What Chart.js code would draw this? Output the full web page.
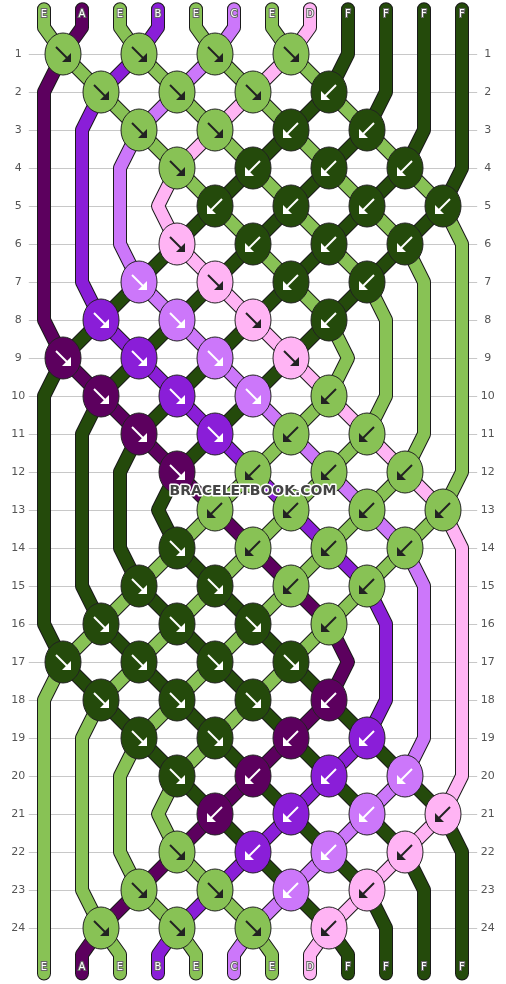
<!DOCTYPE html>
<html><head><meta charset="utf-8">
<script src="https://cdn.jsdelivr.net/npm/chart.js@4/dist/chart.umd.min.js"></script>
<style>body{margin:0;background:#fff}</style>
</head><body>
<canvas id="c" width="506" height="984"></canvas>
<script>
// starting strings, left to right
const strings = ['E','A','E','B','E','C','E','D','F','F','F','F'];
const threadColors = {A:'#5c005e',B:'#8a1ed8',C:'#cc77fa',D:'#ffb4f4',E:'#88c255',F:'#244a0b'};
// knot positions per row (index of left string of the pair)
const knotCols = [[0,2,4,6],[1,3,5,7],[2,4,6,8],[3,5,7,9],[4,6,8,10],[3,5,7,9],[2,4,6,8],[1,3,5,7],
  [0,2,4,6],[1,3,5,7],[2,4,6,8],[3,5,7,9],[4,6,8,10],[3,5,7,9],[2,4,6,8],[1,3,5,7],
  [0,2,4,6],[1,3,5,7],[2,4,6,8],[3,5,7,9],[4,6,8,10],[3,5,7,9],[2,4,6,8],[1,3,5,7]];
// R = forward knot, L = backward knot
const knotDirs = ['RRRR','RRRL','RRLL','RLLL','LLLL','RLLL','RRLL','RRRL',
  'RRRR','RRRL','RRLL','RLLL','LLLL','RLLL','RRLL','RRRL',
  'RRRR','RRRL','RRLL','RLLL','LLLL','RLLL','RRLL','RRRL'];
const rowLabels = Array.from({length:24},(_, i) => String(i+1));

// follow threads through the knots
let pos = strings.map((s,i) => i);
const paths = strings.map((s,i) => [{x:i, y:-0.18}, {x:i, y:0.3}]);
const knots = [];
knotCols.forEach((cols, r) => {
  const row = r + 1, inKnot = {};
  cols.forEach((c, k) => {
    const a = pos[c], b = pos[c+1], d = knotDirs[r][k];
    knots.push({x:c+0.5, y:row, col:strings[d==='R' ? a : b], dir:d});
    inKnot[a] = c+0.5; inKnot[b] = c+0.5;
    pos[c] = b; pos[c+1] = a;
  });
  const where = {}; pos.forEach((t,i) => where[t] = i);
  strings.forEach((s,t) => {
    paths[t].push({x: inKnot[t] !== undefined ? inKnot[t] : where[t], y:row});
  });
});
const endLetters = [];
pos.forEach((t,i) => { paths[t].push({x:i, y:24.7}, {x:i, y:25.2}); endLetters[i] = strings[t]; });

function knotImage(col, dir) {
  const cv = document.createElement('canvas'); cv.width = 40; cv.height = 46;
  const g = cv.getContext('2d');
  g.beginPath(); g.ellipse(20,23,18,21,0,0,Math.PI*2);
  g.fillStyle = col; g.fill(); g.strokeStyle = '#222'; g.lineWidth = 1; g.stroke();
  const light = col === threadColors.E || col === threadColors.D;
  g.strokeStyle = g.fillStyle = light ? '#222' : '#fff'; g.lineWidth = 2;
  const s = dir === 'R' ? 1 : -1;
  g.beginPath(); g.moveTo(20 - 7*s, 16); g.lineTo(20 + 5*s, 28); g.stroke();
  g.beginPath(); g.moveTo(20 + 8*s, 31); g.lineTo(20 + 8*s, 22); g.lineTo(20 - 1*s, 31); g.closePath(); g.fill();
  return cv;
}

const datasets = [];
paths.forEach((p,t) => {
  datasets.push({type:'line', data:p, borderColor:'#1a1a1a', borderWidth:14, pointRadius:0, borderCapStyle:'round', borderJoinStyle:'round', order:100-2*t});
  datasets.push({type:'line', data:p, borderColor:threadColors[strings[t]], borderWidth:12, pointRadius:0, borderCapStyle:'round', borderJoinStyle:'round', order:99-2*t});
});
datasets.push({type:'scatter', data:knots.map(k => ({x:k.x, y:k.y})),
  pointStyle:knots.map(k => knotImage(threadColors[k.col], k.dir)), pointRadius:20, order:0});

const decor = {
  id:'decor',
  beforeDatasetsDraw(chart) {
    const {ctx, scales:{x, y}} = chart;
    ctx.save(); ctx.strokeStyle = '#c8c8c8'; ctx.lineWidth = 1;
    ctx.fillStyle = '#555'; ctx.font = '11px "DejaVu Sans"'; ctx.textAlign = 'center'; ctx.textBaseline = 'middle';
    rowLabels.forEach((l,i) => {
      const py = Math.round(y.getPixelForValue(i+1)) + 0.5;
      ctx.beginPath(); ctx.moveTo(x.getPixelForValue(-0.4), py); ctx.lineTo(x.getPixelForValue(11.4), py); ctx.stroke();
      ctx.fillText(l, x.getPixelForValue(-0.68), py); ctx.fillText(l, x.getPixelForValue(11.68), py);
    });
    ctx.restore();
  },
  afterDraw(chart) {
    const {ctx, scales:{x, y}} = chart;
    ctx.save(); ctx.font = '10px "DejaVu Sans"'; ctx.textAlign = 'center'; ctx.textBaseline = 'middle';
    const lab = (s, i, r) => {
      ctx.lineWidth = 2; ctx.strokeStyle = '#666'; ctx.strokeText(s, x.getPixelForValue(i), y.getPixelForValue(r));
      ctx.fillStyle = '#fff'; ctx.fillText(s, x.getPixelForValue(i), y.getPixelForValue(r));
    };
    strings.forEach((s,i) => lab(s, i, -0.05));
    endLetters.forEach((s,i) => lab(s, i, 25.05));
    ctx.font = 'bold 14px "DejaVu Sans"';
    ctx.lineWidth = 3; ctx.strokeStyle = '#fff'; ctx.lineJoin = 'round';
    const wx = x.getPixelForValue(5.5), wy = y.getPixelForValue(12.5);
    ctx.strokeText('BRACELETBOOK.COM', wx, wy);
    ctx.fillStyle = '#444'; ctx.fillText('BRACELETBOOK.COM', wx, wy);
    ctx.restore();
  }
};

new Chart(document.getElementById('c'), {
  data:{datasets},
  options:{
    responsive:false, animation:false,
    layout:{padding:0, autoPadding:false},
    plugins:{legend:{display:false}, tooltip:{enabled:false}},
    scales:{
      x:{type:'linear', min:-44/38, max:(506-44)/38, display:false},
      y:{type:'linear', min:1-54/38, max:1+(984-54)/38, reverse:true, display:false}
    }
  },
  plugins:[decor]
});
</script>
</body></html>
